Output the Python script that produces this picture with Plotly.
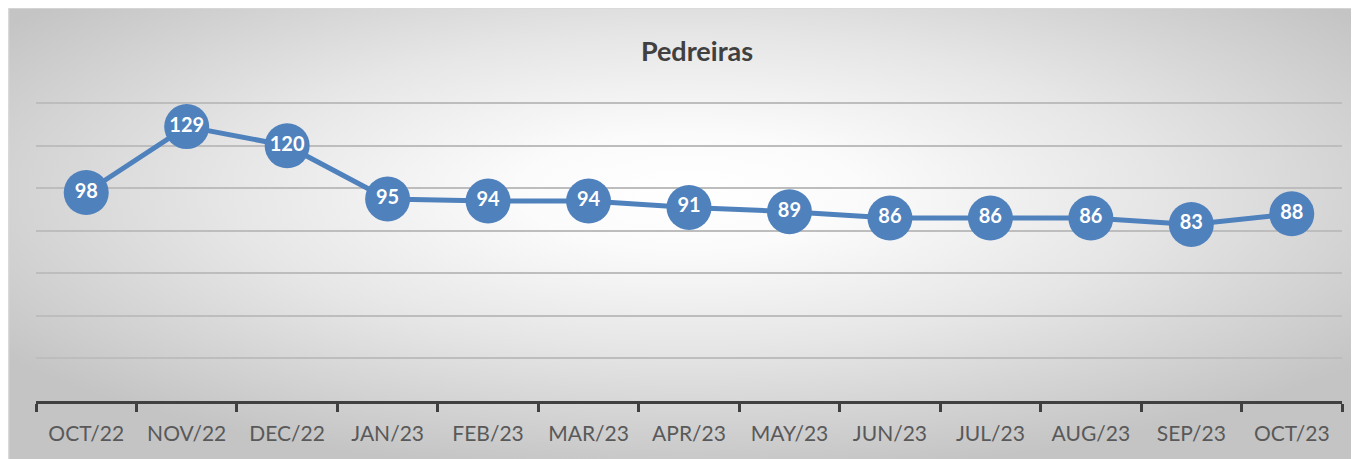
import base64
import plotly.graph_objects as go

months = ["OCT/22", "NOV/22", "DEC/22", "JAN/23", "FEB/23", "MAR/23", "APR/23",
          "MAY/23", "JUN/23", "JUL/23", "AUG/23", "SEP/23", "OCT/23"]
values = [98, 129, 120, 95, 94, 94, 91, 89, 86, 86, 86, 83, 88]
title_text = "Pedreiras"

W, H = 1359, 459
OFF = 8  # page offset of the figure (body margin)
L, R = 36 - OFF, 1342 - OFF
B = 401 - OFF
YMAX = 141.5
PXU = (401 - 103.5) / 140.0
T = B - YMAX * PXU

svg = """<svg xmlns='http://www.w3.org/2000/svg' width='1359' height='459' viewBox='0 0 1359 459' preserveAspectRatio='none'>
<defs><radialGradient id='g' cx='0.5' cy='0.4' r='0.62' gradientUnits='objectBoundingBox'>
<stop offset='0' stop-color='#ffffff'/>
<stop offset='0.2' stop-color='#fbfbfb'/>
<stop offset='0.55' stop-color='#e6e6e6'/>
<stop offset='1' stop-color='#c4c4c4'/>
</radialGradient></defs>
<rect width='1359' height='459' fill='url(#g)'/>
</svg>"""
src = "data:image/svg+xml;base64," + base64.b64encode(svg.encode()).decode()

def px(x):
    return (x - L) / (R - L)

def py(y):
    return (B - y) / (B - T)

fig = go.Figure()
fig.add_trace(go.Scatter(
    x=months, y=values, mode="lines+markers+text",
    line=dict(color="#4f81bd", width=5),
    marker=dict(size=45, color="#4f81bd"),
    text=[str(v) for v in values], textposition="middle center",
    textfont=dict(family="Lato", size=20, color="white", weight="bold"),
    cliponaxis=False, hoverinfo="skip",
))

fig.update_layout(
    width=W, height=H,
    margin=dict(l=L, r=W - R, t=T, b=H - B),
    paper_bgcolor="white", plot_bgcolor="rgba(0,0,0,0)",
    showlegend=False,
    title=dict(text="<b>" + title_text + "</b>", x=0.507, xanchor="center",
               y=1 - (52 - OFF) / H, yanchor="middle",
               font=dict(family="Lato", size=27, color="#404040")),
    images=[dict(source=src, xref="paper", yref="paper",
                 x=px(0), y=py(0), sizex=px(W) - px(0), sizey=py(0) - py(H),
                 xanchor="left", yanchor="top", sizing="stretch", layer="below")],
    shapes=[dict(type="rect", xref="paper", yref="paper",
                 x0=px(0.5), x1=px(W + 3), y0=py(0.5), y1=py(H + 3),
                 line=dict(color="#d9d9d9", width=1.5), layer="below")],
)
fig.update_xaxes(
    type="category", range=[-0.5, 12.5], tickson="boundaries",
    showline=True, linecolor="#404040", linewidth=3,
    ticks="outside", ticklen=8, tickwidth=3, tickcolor="#404040",
    showgrid=False, ticklabelstandoff=12,
    tickfont=dict(family="Lato", size=21, color="#595959"),
)
fig.update_yaxes(
    range=[0, YMAX], tick0=0, dtick=20, showticklabels=False,
    showgrid=True, gridcolor="#bdbdbd", gridwidth=1.5,
    zeroline=False, showline=False,
)
fig.write_html("out.html")
